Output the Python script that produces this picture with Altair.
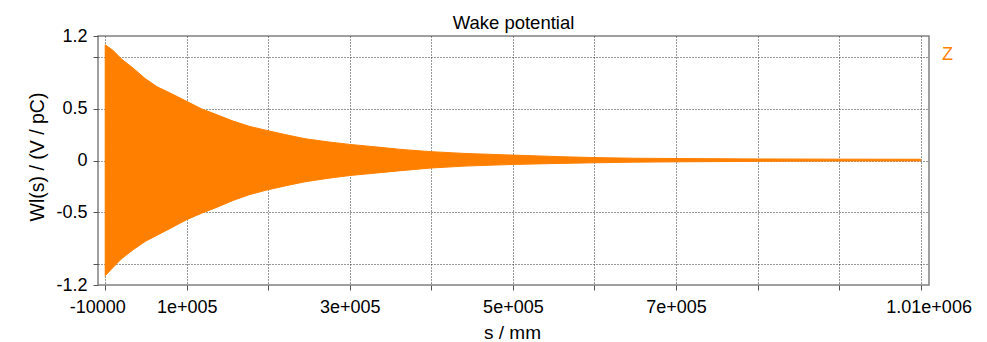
import altair as alt
import pandas as pd

# Envelope of the (very dense) wake oscillation
s_mm = [-10000, 0, 10000, 25000, 40000, 55000, 70000, 92000, 110000, 130000,
        150000, 170000, 192000, 215000, 240000, 270000, 296000, 330000, 360000,
        398000, 440000, 500000, 560000, 602000, 650000, 704000, 806000, 908000, 1010000]
upper = [1.115, 1.06, 0.98, 0.89, 0.79, 0.71, 0.655, 0.57, 0.50, 0.44,
         0.38, 0.33, 0.29, 0.25, 0.21, 0.178, 0.155, 0.13, 0.107,
         0.085, 0.068, 0.052, 0.037, 0.028, 0.022, 0.019, 0.015, 0.013, 0.012]
lower = [-1.11, -1.03, -0.95, -0.86, -0.78, -0.72, -0.66, -0.57, -0.51, -0.45,
         -0.385, -0.33, -0.285, -0.245, -0.205, -0.17, -0.145, -0.12, -0.098,
         -0.072, -0.054, -0.038, -0.028, -0.022, -0.016, -0.013, -0.008, -0.005, -0.004]
series_name = "Z"

x_ticks = [-10000, 92000, 194000, 296000, 398000, 500000, 602000, 704000, 806000, 908000, 1010000]
x_labels = ["-10000", "1e+005", "", "3e+005", "", "5e+005", "", "7e+005", "", "", "1.01e+006"]
y_ticks = [-1.2, -1, -0.5, 0, 0.5, 1, 1.2]
y_labels = ["-1.2", "", "-0.5", "0", "0.5", "", "1.2"]

ORANGE = "#ff8000"
FONT = "Liberation Sans"


def label_expr(values, labels):
    expr = "''"
    for v, l in zip(reversed(values), reversed(labels)):
        expr = f"datum.value == {v} ? '{l}' : ({expr})"
    return expr


df = pd.DataFrame({"s": s_mm, "upper": upper, "lower": lower, "series": series_name})

chart = alt.Chart(df).mark_area(stroke=ORANGE, strokeWidth=1, interpolate="linear").encode(
    x=alt.X("s:Q",
            scale=alt.Scale(domain=[-19000, 1020500], nice=False, zero=False),
            axis=alt.Axis(values=x_ticks, labelExpr=label_expr(x_ticks, x_labels),
                          title="s / mm", titleX=414, titleY=53, titleBaseline="alphabetic",
                          titleAlign="center", titleFontSize=19,
                          labelFlush=False, labelOverlap=False, labelBound=False,
                          labelPadding=8,
                          labelOffset={"condition": [
                              {"test": "datum.value == 1010000", "value": 8},
                              {"test": "datum.value == -10000", "value": -8}],
                              "value": 0})),
    y=alt.Y("upper:Q",
            scale=alt.Scale(domain=[-1.2, 1.2], nice=False, zero=False),
            axis=alt.Axis(values=y_ticks, labelExpr=label_expr(y_ticks, y_labels),
                          title="Wl(s) / (V / pC)", titleX=-61, titleY=120.5, titleAngle=270,
                          titleBaseline="middle", titleAlign="center", titleFontSize=19.5,
                          labelOverlap=False, labelPadding=6,
                          gridColor={"condition": {"test": "abs(datum.value) > 1.1", "value": "transparent"},
                                     "value": "#333"})),
    y2="lower:Q",
    color=alt.Color("series:N",
                    scale=alt.Scale(domain=[series_name], range=[ORANGE]),
                    legend=alt.Legend(title=None, orient="none", legendX=826, legendY=10,
                                      symbolOpacity=0, symbolSize=0, symbolStrokeWidth=0,
                                      labelColor=ORANGE, labelFontSize=18, labelFont=FONT,
                                      labelOffset=0, padding=0)),
).properties(
    width=831, height=249,
    title=alt.TitleParams("Wake potential", font=FONT, fontSize=18.5, fontWeight="normal",
                          color="black", anchor="middle", offset=7, dy=12),
    autosize=alt.AutoSizeParams(type="none"),
    padding={"left": 90, "top": 28, "right": 50, "bottom": 56},
    background="white",
).configure_view(
    stroke="#808080", strokeWidth=1.5
).configure_axis(
    domain=False, grid=True, gridDash=[1, 2], gridWidth=1, gridColor="#333",
    tickColor="#555", tickSize=5, labelFont=FONT, labelFontSize=18, labelColor="black",
    titleFont=FONT, titleFontWeight="normal", titleColor="black"
)

chart.save("out.html", embed_options={"renderer": "svg", "actions": False})
